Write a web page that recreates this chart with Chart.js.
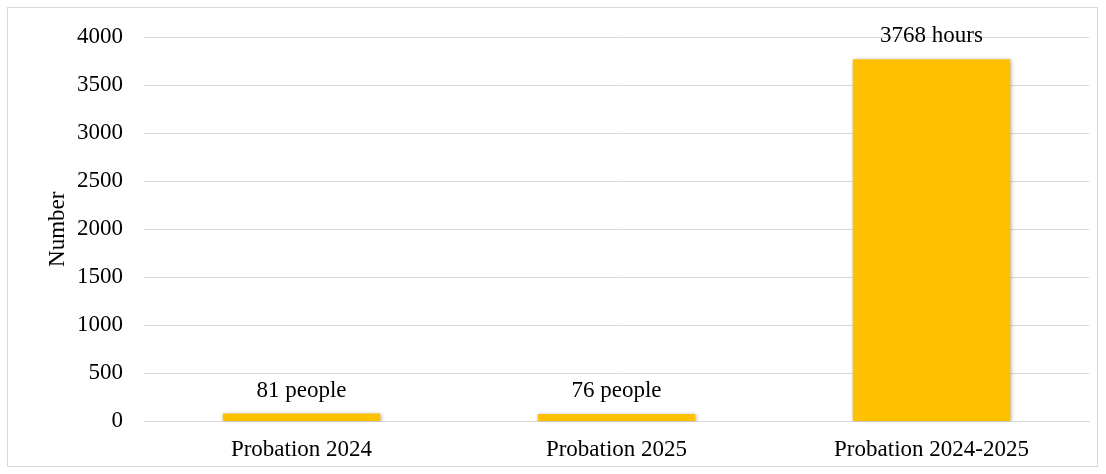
<!DOCTYPE html>
<html>
<head>
<meta charset="utf-8">
<script src="https://cdn.jsdelivr.net/npm/chart.js@4"></script>
<style>
  body { margin: 0; background: #fff; }
  #box {
    position: absolute; left: 7px; top: 7px;
    width: 1091px; height: 460px;
    box-sizing: border-box; border: 1px solid #d9d9d9;
  }
</style>
</head>
<body>
<div id="box"><canvas id="chart" width="1089" height="458"></canvas></div>
<script>
// data
const categories = ["Probation 2024", "Probation 2025", "Probation 2024-2025"];
const values = [81, 76, 3768];
const units = ["people", "people", "hours"];
const yTicks = [0, 500, 1000, 1500, 2000, 2500, 3000, 3500, 4000];

const FONT = "'Liberation Serif', 'Times New Roman', serif";
const FSIZE = 23;

/* bar shadow */
const shadowPlugin = {
    id: "shadow",
    beforeDatasetsDraw(chart){
        const c = chart.ctx;
        c.save();
        c.shadowColor = "rgba(0,0,0,0.35)";
        c.shadowBlur = 4;
        c.shadowOffsetX = 1;
        c.shadowOffsetY = 1;
    },
    afterDatasetsDraw(chart){
        chart.ctx.restore();
    }
};

/* value labels above bars */
const labelPlugin = {
    id: "valueLabels",
    afterDatasetsDraw(chart){
        const c = chart.ctx;
        const meta = chart.getDatasetMeta(0);
        c.save();
        c.font = FSIZE + "px " + FONT;
        c.fillStyle = "#000";
        c.textAlign = "center";
        c.textBaseline = "middle";
        meta.data.forEach((bar, i) => {
            c.fillText(values[i] + " " + units[i], bar.x, bar.y - 23);
        });
        c.restore();
    }
};

new Chart(document.getElementById("chart"), {
    type: "bar",
    data: {
        labels: categories,
        datasets: [{
            data: values,
            backgroundColor: "#FFC000",
            borderWidth: 0,
            barPercentage: 1,
            categoryPercentage: 0.5
        }]
    },
    options: {
        responsive: false,
        animation: false,
        layout: { padding: { left: 36, right: 8, top: 29, bottom: -5 } },
        plugins: {
            legend: { display: false },
            tooltip: { enabled: false }
        },
        scales: {
            x: {
                grid: { display: false },
                border: { color: "#d9d9d9" },
                ticks: { color: "#000", font: { family: FONT, size: FSIZE }, padding: 7 }
            },
            y: {
                min: 0,
                max: 4000,
                afterBuildTicks(scale){
                    scale.ticks = yTicks.map(v => ({ value: v }));
                },
                afterFit(scale){
                    scale.width = 100;
                    scale.paddingTop = 0;
                    scale.paddingBottom = 0;
                },
                grid: { color: "#d9d9d9", drawTicks: false },
                border: { display: false },
                ticks: {
                    color: "#000",
                    font: { family: FONT, size: FSIZE },
                    padding: 21,
                    callback: v => String(v)
                },
                title: {
                    display: true,
                    text: "Number",
                    color: "#000",
                    font: { family: FONT, size: FSIZE },
                    padding: 0
                }
            }
        }
    },
    plugins: [shadowPlugin, labelPlugin]
});
</script>
</body>
</html>
